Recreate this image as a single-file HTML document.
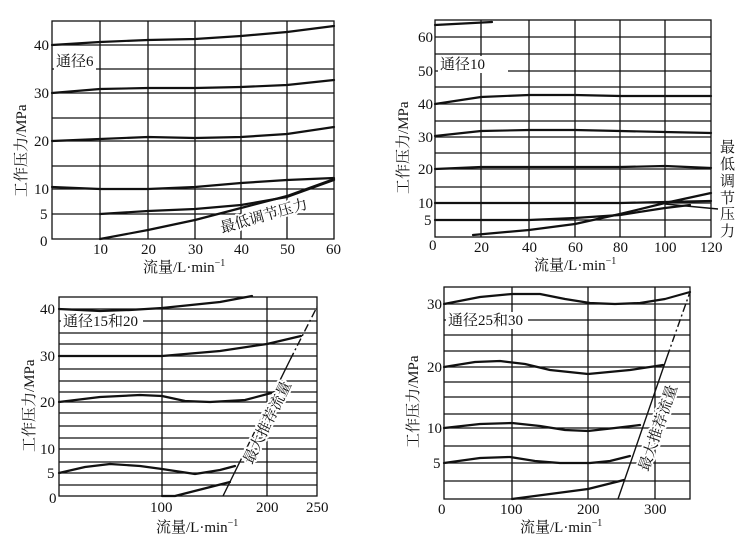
<!DOCTYPE html>
<html><head><meta charset="utf-8"><style>
html,body{margin:0;padding:0;background:#fff}
svg{display:block}
text{font-family:"Liberation Serif","Noto Serif CJK SC",serif;font-size:15px;fill:#111}
.h{stroke:#fff;stroke-width:4px;paint-order:stroke;stroke-linejoin:round}
.g{stroke:#111;stroke-width:1.3;fill:none}
.c{stroke:#111;stroke-width:2.2;fill:none;stroke-linejoin:round;stroke-linecap:round}
.t{stroke:#111;stroke-width:1.4;fill:none}
</style></head><body>
<svg width="753" height="551" viewBox="0 0 753 551" xmlns="http://www.w3.org/2000/svg">
<!-- Panel 1 -->
<g>
<rect class="g" x="52" y="21" width="282" height="218"/>
<path class="g" d="M100 21V239M148 21V239M195 21V239M241 21V239M287 21V239M52 45H334M52 69H334M52 93H334M52 118H334M52 141H334M52 166H334M52 189H334M52 214H334"/>
<rect x="54" y="52" width="42" height="18" fill="#fff"/>
<text x="56" y="66">通径6</text>
<polyline class="c" points="52,45 100,42 148,40 195,39 241,36 287,32 334,26"/>
<polyline class="c" points="52,93 100,89 148,88 195,88 241,87 287,85 334,80"/>
<polyline class="c" points="52,141 100,139 148,137 195,138 241,137 287,134 334,127"/>
<polyline class="c" points="52,187 100,189 148,189 195,187 241,183 287,180 334,178"/>
<polyline class="c" points="100,214 148,211 195,209 241,205 287,197 334,180"/>
<polyline class="c" points="100,239 148,230 195,220 241,208 287,196 334,179"/>
<text class="h" transform="translate(222,233) rotate(-16)">最低调节压力</text>
<text x="34" y="50">40</text><text x="34" y="98">30</text><text x="34" y="146">20</text><text x="34" y="194">10</text><text x="40" y="219">5</text><text x="40" y="246">0</text>
<text x="93" y="254">10</text><text x="141" y="254">20</text><text x="188" y="254">30</text><text x="234" y="254">40</text><text x="280" y="254">50</text><text x="326" y="254">60</text>
<text x="143" y="272">流量/L·min<tspan dy="-6" font-size="10">−1</tspan></text>
<text transform="translate(26,197) rotate(-90)">工作压力/MPa</text>
</g>
<!-- Panel 2 -->
<g>
<rect class="g" x="435" y="20" width="276" height="217"/>
<path class="g" d="M481 20V237M529 20V237M575 20V237M620 20V237M665 20V237M435 37H711M435 54H711M435 71H711M435 87H711M435 104H711M435 121H711M435 137H711M435 153H711M435 169H711M435 187H711M435 203H711M435 220H711"/>
<rect x="438" y="56" width="70" height="17" fill="#fff"/>
<text x="440" y="69">通径10</text>
<polyline class="c" points="435,25 492,22"/>
<polyline class="c" points="435,104 481,97 529,95 575,95 620,96 665,96 711,96"/>
<polyline class="c" points="435,136 481,131 529,130 575,130 620,131 665,132 711,133"/>
<polyline class="c" points="435,169 481,167 529,167 575,167 620,167 665,166 711,168"/>
<polyline class="c" points="435,203 529,203 620,203 665,202 711,201"/>
<polyline class="c" points="435,220 529,220 575,218 620,215 665,208 690,205"/>
<polyline class="c" points="473,235 529,230 575,224 620,214 665,203 711,193"/>
<path class="t" d="M665 204L718 209"/>
<text x="720" y="152">最</text><text x="720" y="169">低</text><text x="720" y="186">调</text><text x="720" y="203">节</text><text x="720" y="219">压</text><text x="720" y="236">力</text>
<text x="418" y="42">60</text><text x="418" y="76">50</text><text x="418" y="109">40</text><text x="418" y="142">30</text><text x="418" y="174">20</text><text x="418" y="208">10</text><text x="424" y="225">5</text><text x="429" y="250">0</text>
<text x="474" y="252">20</text><text x="522" y="252">40</text><text x="568" y="252">60</text><text x="613" y="252">80</text><text x="654" y="252">100</text><text x="700" y="252">120</text>
<text x="534" y="270">流量/L·min<tspan dy="-6" font-size="10">−1</tspan></text>
<text transform="translate(408,194) rotate(-90)">工作压力/MPa</text>
</g>
<!-- Panel 3 -->
<g>
<rect class="g" x="59" y="297" width="258" height="199"/>
<path class="g" d="M162 297V496M267 297V496M59 309H317M59 321H317M59 333H317M59 344H317M59 356H317M59 369H317M59 381H317M59 392H317M59 402H317M59 413H317M59 426H317M59 438H317M59 449H317M59 462H317M59 473H317M59 485H317"/>
<rect x="61" y="313" width="82" height="17" fill="#fff"/>
<text x="63" y="326">通径15和20</text>
<polyline class="c" points="59,309 100,311 130,310 162,308 220,302 252,296"/>
<polyline class="c" points="59,356 100,356 162,356 220,351 267,344 301,336"/>
<polyline class="c" points="59,402 100,397 140,395 162,396 185,401 210,402 245,400 275,392"/>
<polyline class="c" points="59,473 85,467 110,464 140,466 162,469 195,474 220,470 235,466"/>
<polyline class="c" points="162,496 175,496 230,482"/>
<path class="t" d="M223 496L290 360"/>
<path class="t" d="M290 360L317 307" stroke-dasharray="8,3,2,3"/>
<text class="h" transform="translate(252,465) rotate(-64)">最大推荐流量</text>
<text x="40" y="314">40</text><text x="40" y="361">30</text><text x="40" y="407">20</text><text x="40" y="454">10</text><text x="47" y="478">5</text><text x="49" y="503">0</text>
<text x="150" y="512">100</text><text x="256" y="512">200</text><text x="306" y="512">250</text>
<text x="156" y="532">流量/L·min<tspan dy="-6" font-size="10">−1</tspan></text>
<text transform="translate(34,452) rotate(-90)">工作压力/MPa</text>
</g>
<!-- Panel 4 -->
<g>
<rect class="g" x="444" y="287" width="246" height="212"/>
<path class="g" d="M512 287V499M588 287V499M655 287V499M444 304H690M444 320H690M444 335H690M444 351H690M444 367H690M444 382H690M444 397H690M444 414H690M444 428H690M444 446H690M444 463H690M444 481H690"/>
<rect x="446" y="312" width="82" height="17" fill="#fff"/>
<text x="448" y="325">通径25和30</text>
<polyline class="c" points="444,304 480,297 512,294 540,294 565,299 590,303 615,304 640,303 665,299 690,292"/>
<polyline class="c" points="444,367 475,362 500,361 525,364 550,370 588,374 630,370 663,365"/>
<polyline class="c" points="444,428 480,424 512,423 540,426 565,430 588,431 615,428 640,425"/>
<polyline class="c" points="444,463 480,458 510,457 535,461 560,463 590,463 610,461 630,456"/>
<polyline class="c" points="512,499 550,494 588,489 624,480"/>
<path class="t" d="M618 499L667 357"/>
<path class="t" d="M667 357L690 292" stroke-dasharray="8,3,2,3"/>
<text class="h" transform="translate(648,472) rotate(-71)">最大推荐流量</text>
<text x="427" y="309">30</text><text x="427" y="372">20</text><text x="427" y="433">10</text><text x="433" y="468">5</text><text x="438" y="514">0</text>
<text x="500" y="514">100</text><text x="577" y="514">200</text><text x="644" y="514">300</text>
<text x="520" y="532">流量/L·min<tspan dy="-6" font-size="10">−1</tspan></text>
<text transform="translate(418,448) rotate(-90)">工作压力/MPa</text>
</g>
</svg>
</body></html>
